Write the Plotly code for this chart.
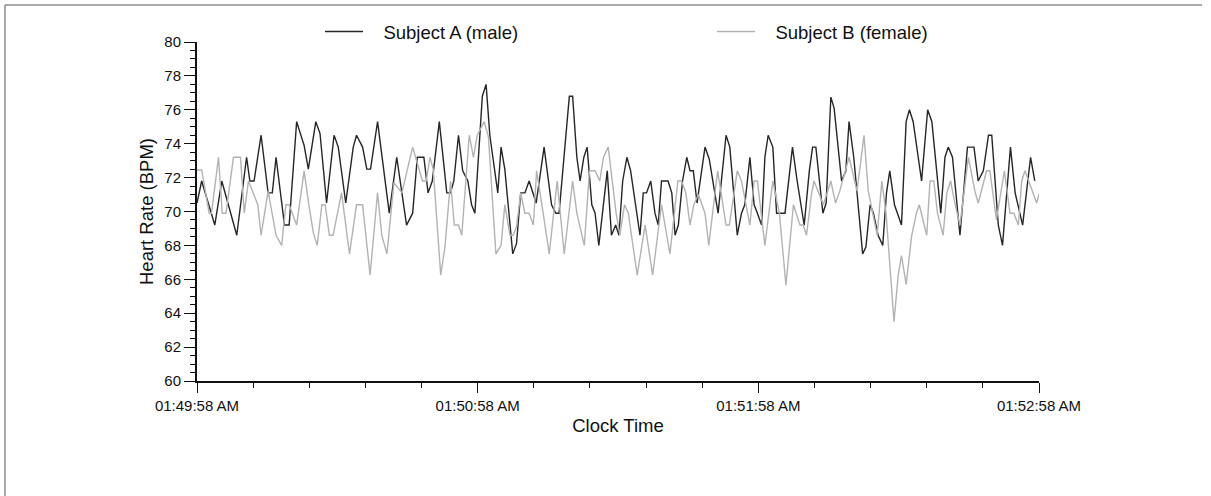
import plotly.graph_objects as go

# ---- data (seconds after 01:49:58 AM, heart rate in BPM) ----
t_a = [0.0, 1.0, 3.8, 5.3, 8.5, 10.6, 11.3, 12.2, 13.7, 15.2, 16.1, 16.9, 18.7, 19.7,
       21.3, 22.9, 23.8, 25.4, 26.3, 27.7, 29.3, 30.2, 31.8, 33.4, 34.1, 35.4, 36.3,
       37.1, 38.6, 41.1, 42.7, 44.8, 46.1, 47.1, 48.5, 49.4, 50.3, 51.8, 53.4, 54.2,
       54.9, 55.9, 56.8, 57.9, 58.7, 59.4, 61.0, 61.8, 62.6, 64.3, 65.0, 65.8, 67.5,
       68.3, 69.2, 70.1, 71.0, 72.5, 74.2, 75.8, 76.7, 77.4, 79.6, 80.3, 81.2, 81.9,
       82.7, 83.4, 84.4, 85.1, 85.9, 87.7, 88.6, 89.5, 90.2, 91.0, 91.9, 92.7, 94.7,
       95.4, 96.1, 97.0, 97.9, 98.6, 99.3, 100.7, 101.5, 102.2, 102.9, 103.8, 104.7,
       105.4, 106.1, 106.9, 108.6, 109.5, 111.4, 113.1, 113.9, 115.5, 116.4, 117.1,
       118.2, 119.1, 119.8, 120.7, 121.4, 122.1, 123.1, 123.9, 125.7, 127.3, 128.3,
       129.8, 130.9, 131.6, 132.3, 133.8, 134.5, 135.5, 136.2, 137.8, 138.7, 139.4,
       140.4, 142.3, 143.0, 143.9, 144.6, 145.6, 146.6, 147.4, 148.1, 149.1, 150.6,
       151.6, 152.3, 153.1, 154.9, 156.2, 157.1, 159.0, 159.9, 160.6, 161.5, 163.1,
       164.7, 166.1, 167.0, 168.1, 169.2, 169.9, 171.3, 172.2, 173.9, 174.9, 176.5,
       178.2, 179.1]
hr_a = [70.5, 71.8, 69.2, 71.8, 68.6, 73.2, 71.8, 71.8, 74.5, 71.1, 71.1, 73.2, 69.2, 69.2,
        75.3, 73.9, 72.5, 75.3, 74.6, 70.5, 74.5, 73.8, 70.5, 73.8, 74.5, 73.8, 72.5,
        72.5, 75.3, 69.9, 73.2, 69.2, 69.9, 73.2, 73.2, 71.1, 71.8, 75.3, 71.1, 71.1,
        71.8, 74.5, 72.4, 71.8, 70.4, 69.9, 76.8, 77.5, 74.5, 71.1, 73.8, 72.5, 67.5,
        68.1, 71.1, 71.1, 71.8, 70.5, 73.8, 70.4, 69.9, 69.9, 76.8, 76.8, 73.2, 71.8,
        73.2, 73.8, 70.4, 69.9, 68.0, 72.4, 68.6, 69.2, 68.6, 71.8, 73.2, 72.4, 68.6,
        71.1, 71.1, 71.8, 69.9, 69.2, 71.8, 71.8, 71.1, 68.6, 69.2, 71.8, 73.2,
        72.4, 72.4, 70.5, 73.8, 73.1, 69.9, 74.5, 73.8, 68.6, 69.9, 70.4,
        73.2, 70.4, 69.9, 69.2, 73.2, 74.5, 73.8, 69.9, 69.9, 73.8, 71.8,
        69.2, 72.4, 73.8, 73.8, 69.9, 70.5, 76.75, 76.1, 71.8, 72.4, 75.3,
        73.2, 67.5, 67.9, 70.4, 69.9, 68.6, 68.0, 71.1, 72.4, 70.4, 69.2,
        75.3, 76.0, 75.3, 71.8, 76.0, 75.3, 69.9, 73.2, 73.8, 73.2, 68.6,
        73.8, 73.8, 71.8, 72.4, 74.5, 74.5, 69.2, 68.0, 73.8, 71.1, 69.2,
        73.2, 71.8]

t_b = [0.0, 1.0, 2.6, 3.1, 4.6, 5.4, 6.2, 7.8, 9.3, 10.1, 11.0, 12.0, 13.0, 13.7, 15.2,
       16.9, 18.1, 19.0, 19.7, 21.3, 22.9, 23.9, 24.9, 25.7, 26.7, 27.4, 28.3, 29.1,
       30.9, 32.6, 34.1, 35.4, 37.0, 38.6, 39.5, 40.6, 42.1, 43.8, 46.1, 48.2, 49.0,
       49.8, 50.5, 52.1, 53.0, 54.2, 55.0, 55.9, 56.6, 58.2, 59.1, 59.9, 61.4, 62.3,
       63.9, 65.0, 65.8, 66.9, 67.6, 68.3, 69.2, 70.1, 71.0, 71.9, 72.6, 74.0, 75.3,
       77.0, 78.5, 80.3, 81.2, 82.8, 83.9, 85.1, 86.1, 86.9, 87.9, 89.6, 90.4, 91.4,
       92.2, 94.1, 95.8, 97.4, 99.3, 101.1, 102.8, 103.6, 104.5, 105.4, 106.2, 107.2,
       108.6, 109.4, 111.3, 113.1, 113.8, 115.5, 116.4, 118.2, 119.1, 119.8, 121.4,
       123.1, 124.5, 125.9, 127.5, 128.9, 129.6, 130.3, 131.4, 131.9, 133.9, 135.5,
       136.5, 137.4, 139.4, 141.1, 142.6, 143.5, 144.4, 145.4, 146.4, 147.3, 149.0,
       149.9, 150.6, 151.6, 152.8, 153.8, 154.4, 156.0, 156.7, 157.5, 158.3, 159.5,
       160.3, 161.1, 162.0, 163.1, 164.9, 166.3, 167.0, 168.8, 169.5, 170.9, 172.6,
       173.8, 174.6, 175.6, 176.3, 177.0, 179.5, 180.8]
hr_b = [72.45, 72.45, 69.9, 69.9, 73.2, 69.9, 69.9, 73.2, 73.2, 69.9, 71.8, 71.1, 70.4, 68.6, 71.2,
        68.6, 68.0, 70.4, 70.4, 69.2, 72.4, 70.4, 68.7, 68.0, 70.4, 70.4, 68.6, 68.6,
        71.1, 67.5, 70.4, 70.4, 66.25, 71.1, 68.6, 67.5, 71.7, 71.1, 73.8, 71.8, 71.8,
        73.2, 72.5, 66.25, 67.9, 71.8, 69.2, 69.2, 68.6, 74.5, 73.2, 74.5, 75.3, 74.4,
        67.5, 68.0, 70.4, 68.6, 68.6, 69.1, 71.1, 69.9, 69.9, 69.2, 72.4, 69.9, 67.5,
        71.8, 67.5, 71.8, 69.9, 68.0, 72.4, 72.4, 71.8, 73.2, 73.8, 69.9, 68.6, 70.4,
        69.9, 66.25, 69.2, 66.25, 70.4, 67.5, 71.8, 71.8, 71.1, 69.2, 70.4, 71.0,
        69.9, 68.0, 72.4, 69.2, 69.2, 72.4, 71.8, 69.2, 71.8, 71.8, 68.0,
        71.8, 69.9, 65.65, 70.4, 69.2, 69.2, 68.6, 71.1, 71.8, 70.4, 71.8,
        70.5, 71.2, 73.2, 71.2, 74.5, 71.2, 69.9, 68.6, 71.8, 69.9, 63.5,
        66.25, 67.4, 65.7, 68.6, 69.9, 70.4, 68.6, 71.8, 71.8, 69.9, 68.6,
        71.1, 71.8, 70.5, 69.2, 73.2, 71.2, 70.5, 72.4, 72.4, 69.5, 72.4,
        69.9, 69.9, 69.2, 71.8, 72.4, 70.5, 71.8]

x_tickvals = [0, 60, 120, 180]
x_ticktext = ["01:49:58 AM", "01:50:58 AM", "01:51:58 AM", "01:52:58 AM"]
series_names = ["Subject A (male)", "Subject B (female)"]

FONT = "Arial, 'Liberation Sans', sans-serif"
PAD = "\u00a0\u00a0\u00a0"

fig = go.Figure()
fig.add_trace(go.Scatter(x=t_a, y=hr_a, mode="lines", name=PAD + series_names[0],
                         line=dict(color="#262626", width=1.4), legend="legend",
                         showlegend=True))
fig.add_trace(go.Scatter(x=t_b, y=hr_b, mode="lines", name=PAD + series_names[1],
                         line=dict(color="#b3b3b3", width=1.4), legend="legend2",
                         showlegend=True))

W, H = 1211, 496
L, R, T, B = 197, 172, 42, 115
pw, ph = W - L - R, H - T - B

def px_x(p):
    return (p - L) / pw

def px_y(p):
    return (H - B - p) / ph

axis_common = dict(showgrid=False, zeroline=False, showline=True, linecolor="#111",
                   linewidth=2, ticks="outside", tickcolor="#111", tickwidth=1.2,
                   tickfont=dict(family=FONT, size=15, color="#111"),
                   title_font=dict(family=FONT, size=18.5, color="#111"))

legend_common = dict(orientation="h", yanchor="middle", xanchor="left",
                     font=dict(family=FONT, size=18.5, color="#111"),
                     bgcolor="rgba(0,0,0,0)", itemwidth=38, visible=True)

fig.update_layout(
    width=W, height=H,
    showlegend=True,
    margin=dict(l=L, r=R, t=T, b=B, autoexpand=False),
    paper_bgcolor="white", plot_bgcolor="white",
    font=dict(family=FONT, color="#111"),
    xaxis=dict(range=[0, 180], tickmode="array", tickvals=x_tickvals, ticktext=x_ticktext,
               ticklen=10, title=dict(text="Clock Time", standoff=6),
               minor=dict(tickmode="linear", tick0=0, dtick=12, ticks="outside",
                          ticklen=5, tickcolor="#111", tickwidth=1.2),
               **axis_common),
    yaxis=dict(range=[60, 80], tickmode="linear", tick0=60, dtick=2, ticklen=11,
               title=dict(text="Heart Rate (BPM)", standoff=6),
               minor=dict(tickmode="linear", tick0=60, dtick=0.5, ticks="outside",
                          ticklen=5, tickcolor="#111", tickwidth=1.2),
               **axis_common),
    legend=dict(x=px_x(320), y=px_y(32), **legend_common),
    legend2=dict(x=px_x(712), y=px_y(32), **legend_common),
    shapes=[
        dict(type="line", xref="paper", yref="paper", x0=px_x(5), x1=px_x(1202),
             y0=px_y(5), y1=px_y(5), line=dict(color="#8c8c8c", width=1.5)),
        dict(type="line", xref="paper", yref="paper", x0=px_x(5), x1=px_x(5),
             y0=px_y(5), y1=px_y(500), line=dict(color="#8c8c8c", width=1.5)),
    ],
)

fig.write_html("out.html", config={"displayModeBar": False},
               post_script="document.body.style.margin='0';document.body.style.overflow='hidden';")
